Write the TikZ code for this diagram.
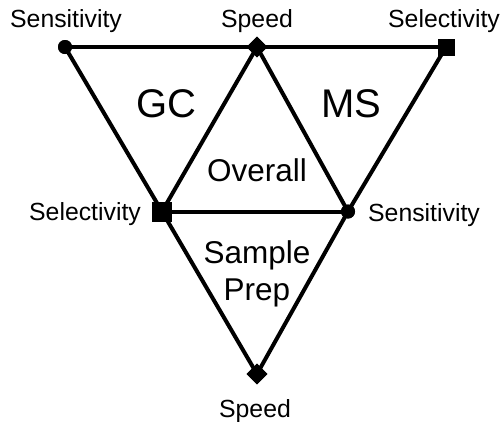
\documentclass[tikz,border=0pt]{standalone}
\usepackage{fontspec}
\setmainfont{Liberation Sans}
\usetikzlibrary{shapes.geometric}
\begin{document}
\begin{tikzpicture}[x=1pt,y=-1pt,
  link/.style={line width=4pt},
  dot/.style={circle,fill=black,inner sep=0pt,minimum size=14pt},
  dmd/.style={diamond,fill=black,inner sep=0pt,minimum size=21pt},
  sq/.style={rectangle,fill=black,inner sep=0pt,minimum size=#1},
  lbl/.style={anchor=base,inner sep=0pt,font=\fontsize{24.8}{28}\selectfont},
  big/.style={anchor=base,inner sep=0pt,font=\fontsize{40}{44}\selectfont},
  mid/.style={anchor=base,inner sep=0pt,font=\fontsize{31.5}{36}\selectfont}]
\useasboundingbox (0,0) rectangle (504,421);
% markers
\node[dot] (tl) at (65,47) {};
\node[dmd] (tm) at (257,47) {};
\node[sq=17pt] (tr) at (446,47) {};
\node[sq=20pt] (ml) at (162,211.5) {};
\node[dot] (mr) at (348,211.5) {};
\node[dmd] (bm) at (257,374) {};
% connectors
\draw[link] (tl.center) -- (tm.center) -- (tr.center);
\draw[link] (tl.center) -- (ml.center);
\draw[link] (tm.center) -- (ml.center);
\draw[link] (tm.center) -- (mr.center);
\draw[link] (tr.center) -- (mr.center);
\draw[link] (ml.center) -- (mr.center);
\draw[link] (ml.center) -- (bm.center);
\draw[link] (mr.center) -- (bm.center);
% redraw markers on top
\node[dot] at (tl) {};
\node[dmd] at (tm) {};
\node[sq=17pt] at (tr) {};
\node[sq=20pt] at (ml) {};
\node[dot] at (mr) {};
\node[dmd] at (bm) {};
% labels
\node[lbl] (l1) at (66,27) {Sensitivity};
\node[lbl] (l2) at (257,27) {Speed};
\node[lbl] (l3) at (444,27) {Selectivity};
\node[lbl] (l4) at (85,220) {Selectivity};
\node[lbl] (l5) at (424,221) {Sensitivity};
\node[lbl] (l6) at (255,417) {Speed};
\node[big] (gc) at (166,117) {GC};
\node[big] (ms) at (351,117) {MS};
\node[mid] (ov) at (257,181) {Overall};
\node[mid] (sa) at (257,263) {Sample};
\node[mid] (pr) at (257,300) {Prep};
\end{tikzpicture}
\end{document}
